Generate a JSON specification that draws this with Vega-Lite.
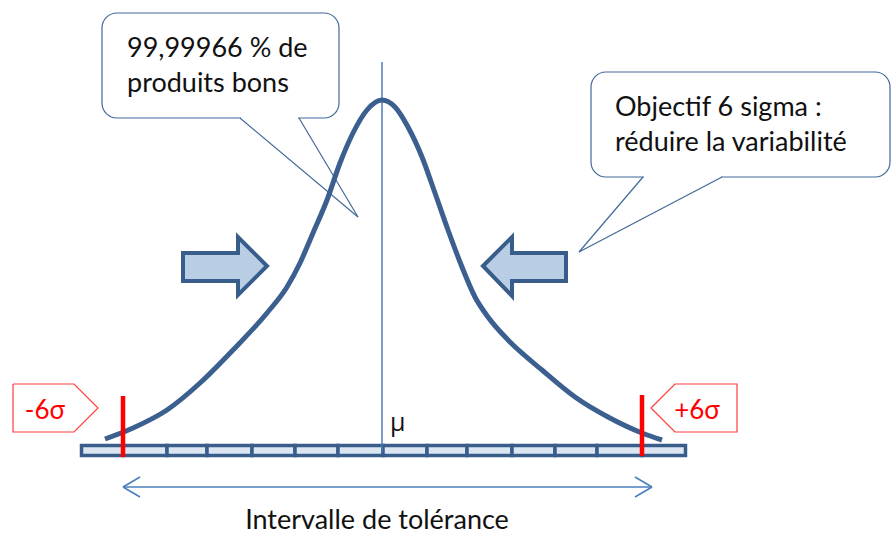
{
  "$schema": "https://vega.github.io/schema/vega-lite/v6.json",
  "width": 892,
  "height": 534,
  "autosize": {"type": "fit", "contains": "padding"},
  "padding": 0,
  "background": "white",
  "config": {"view": {"stroke": null}, "axis": {"disable": true}},
  "datasets": {
    "curve": [
      {"i": 1, "x": 105, "y": 439}, {"i": 2, "x": 133, "y": 428}, {"i": 3, "x": 167, "y": 410},
      {"i": 4, "x": 200, "y": 383}, {"i": 5, "x": 233, "y": 350}, {"i": 6, "x": 267, "y": 313},
      {"i": 7, "x": 287, "y": 287}, {"i": 8, "x": 300, "y": 263}, {"i": 9, "x": 313, "y": 233},
      {"i": 10, "x": 327, "y": 200}, {"i": 11, "x": 340, "y": 163}, {"i": 12, "x": 353, "y": 133},
      {"i": 13, "x": 367, "y": 110}, {"i": 14, "x": 382, "y": 100}, {"i": 15, "x": 395, "y": 107},
      {"i": 16, "x": 408, "y": 127}, {"i": 17, "x": 422, "y": 157}, {"i": 18, "x": 435, "y": 193},
      {"i": 19, "x": 448, "y": 230}, {"i": 20, "x": 462, "y": 267}, {"i": 21, "x": 475, "y": 297},
      {"i": 22, "x": 488, "y": 317}, {"i": 23, "x": 508, "y": 340}, {"i": 24, "x": 542, "y": 370},
      {"i": 25, "x": 575, "y": 397}, {"i": 26, "x": 608, "y": 417}, {"i": 27, "x": 642, "y": 433},
      {"i": 28, "x": 662, "y": 440}
    ],
    "bar": [
      {"x0": 81.5, "x1": 123}, {"x0": 123, "x1": 167}, {"x0": 167, "x1": 207}, {"x0": 207, "x1": 252},
      {"x0": 252, "x1": 295}, {"x0": 295, "x1": 338}, {"x0": 338, "x1": 383}, {"x0": 383, "x1": 427},
      {"x0": 427, "x1": 467}, {"x0": 467, "x1": 512}, {"x0": 512, "x1": 555}, {"x0": 555, "x1": 597},
      {"x0": 597, "x1": 642}, {"x0": 642, "x1": 685.5}
    ],
    "boxes": [
      {"id": "c1", "x0": 102, "x1": 339, "y0": 13, "y1": 118},
      {"id": "c2", "x0": 591, "x1": 890, "y0": 72, "y1": 177}
    ],
    "segs": [
      {"kind": "gap", "x": 241, "y": 118, "x2": 298, "y2": 118},
      {"kind": "gap", "x": 644, "y": 177, "x2": 721, "y2": 177},
      {"kind": "pointer", "x": 240, "y": 118, "x2": 358, "y2": 217},
      {"kind": "pointer", "x": 299, "y": 118, "x2": 358, "y2": 217},
      {"kind": "pointer", "x": 643, "y": 177, "x2": 579, "y2": 252},
      {"kind": "pointer", "x": 722, "y": 177, "x2": 579, "y2": 252},
      {"kind": "mu", "x": 382, "y": 62, "x2": 382, "y2": 452},
      {"kind": "sigma", "x": 123, "y": 396, "x2": 123, "y2": 457},
      {"kind": "sigma", "x": 642, "y": 395, "x2": 642, "y2": 456},
      {"kind": "tol", "x": 123, "y": 487, "x2": 652, "y2": 487},
      {"kind": "tol", "x": 123, "y": 487, "x2": 140, "y2": 477},
      {"kind": "tol", "x": 123, "y": 487, "x2": 140, "y2": 497},
      {"kind": "tol", "x": 652, "y": 487, "x2": 635, "y2": 477},
      {"kind": "tol", "x": 652, "y": 487, "x2": 635, "y2": 497}
    ],
    "arrows": [
      {"id": "r", "x": 183, "y": 253, "y2": 281},
      {"id": "r", "x": 238, "y": 253, "y2": 281},
      {"id": "r", "x": 238, "y": 237, "y2": 295},
      {"id": "r", "x": 267, "y": 266, "y2": 266},
      {"id": "l", "x": 483, "y": 266, "y2": 266},
      {"id": "l", "x": 512, "y": 237, "y2": 296},
      {"id": "l", "x": 512, "y": 253, "y2": 281},
      {"id": "l", "x": 566, "y": 253, "y2": 281}
    ],
    "tags": [
      {"id": "m", "o": 1, "x": 13, "y": 384}, {"id": "m", "o": 2, "x": 74, "y": 384},
      {"id": "m", "o": 3, "x": 98, "y": 408}, {"id": "m", "o": 4, "x": 74, "y": 432},
      {"id": "m", "o": 5, "x": 13, "y": 432}, {"id": "m", "o": 6, "x": 13, "y": 384},
      {"id": "p", "o": 1, "x": 651, "y": 408}, {"id": "p", "o": 2, "x": 675, "y": 384},
      {"id": "p", "o": 3, "x": 737, "y": 384}, {"id": "p", "o": 4, "x": 737, "y": 432},
      {"id": "p", "o": 5, "x": 675, "y": 432}, {"id": "p", "o": 6, "x": 651, "y": 408}
    ],
    "labels": [
      {"kind": "callout", "t": "99,99966 % de", "x": 127, "y": 57},
      {"kind": "callout", "t": "produits bons", "x": 127, "y": 92},
      {"kind": "callout", "t": "Objectif 6 sigma :", "x": 615, "y": 116},
      {"kind": "callout", "t": "réduire la variabilité", "x": 615, "y": 151},
      {"kind": "tag", "t": "-6σ", "x": 45, "y": 419},
      {"kind": "tag", "t": "+6σ", "x": 697, "y": 419},
      {"kind": "mu", "t": "μ", "x": 390, "y": 431},
      {"kind": "title", "t": "Intervalle de tolérance", "x": 377, "y": 529}
    ]
  },
  "layer": [
    {
      "data": {"name": "boxes"},
      "mark": {"type": "rect", "fill": "white", "stroke": "#41699a", "strokeWidth": 1.2, "cornerRadius": 15},
      "encoding": {
        "x": {"field": "x0", "type": "quantitative", "scale": {"domain": [0, 892], "nice": false, "zero": false}},
        "x2": {"field": "x1"},
        "y": {"field": "y0", "type": "quantitative", "scale": {"domain": [0, 534], "nice": false, "zero": false, "reverse": true}},
        "y2": {"field": "y1"}
      }
    },
    {
      "data": {"name": "segs"},
      "transform": [{"filter": "datum.kind === 'gap'"}],
      "mark": {"type": "rule", "stroke": "white", "strokeWidth": 3},
      "encoding": {
        "x": {"field": "x", "type": "quantitative", "scale": {"domain": [0, 892], "nice": false, "zero": false}},
        "x2": {"field": "x2"},
        "y": {"field": "y", "type": "quantitative", "scale": {"domain": [0, 534], "nice": false, "zero": false, "reverse": true}},
        "y2": {"field": "y2"}
      }
    },
    {
      "data": {"name": "segs"},
      "transform": [{"filter": "datum.kind === 'pointer'"}],
      "mark": {"type": "rule", "stroke": "#41699a", "strokeWidth": 1.2},
      "encoding": {
        "x": {"field": "x", "type": "quantitative", "scale": {"domain": [0, 892], "nice": false, "zero": false}},
        "x2": {"field": "x2"},
        "y": {"field": "y", "type": "quantitative", "scale": {"domain": [0, 534], "nice": false, "zero": false, "reverse": true}},
        "y2": {"field": "y2"}
      }
    },
    {
      "data": {"name": "bar"},
      "mark": {"type": "rect", "fill": "#dce6f2", "stroke": "#385d8a", "strokeWidth": 3.5},
      "encoding": {
        "x": {"field": "x0", "type": "quantitative", "scale": {"domain": [0, 892], "nice": false, "zero": false}},
        "x2": {"field": "x1"},
        "y": {"datum": 445.5, "type": "quantitative", "scale": {"domain": [0, 534], "nice": false, "zero": false, "reverse": true}},
        "y2": {"datum": 455.5}
      }
    },
    {
      "data": {"name": "segs"},
      "transform": [{"filter": "datum.kind === 'mu'"}],
      "mark": {"type": "rule", "stroke": "#4a7ebb", "strokeWidth": 1.5},
      "encoding": {
        "x": {"field": "x", "type": "quantitative", "scale": {"domain": [0, 892], "nice": false, "zero": false}},
        "x2": {"field": "x2"},
        "y": {"field": "y", "type": "quantitative", "scale": {"domain": [0, 534], "nice": false, "zero": false, "reverse": true}},
        "y2": {"field": "y2"}
      }
    },
    {
      "data": {"name": "curve"},
      "mark": {"type": "line", "stroke": "#3b5f8e", "strokeWidth": 5, "interpolate": "monotone"},
      "encoding": {
        "x": {"field": "x", "type": "quantitative", "scale": {"domain": [0, 892], "nice": false, "zero": false}},
        "y": {"field": "y", "type": "quantitative", "scale": {"domain": [0, 534], "nice": false, "zero": false, "reverse": true}},
        "order": {"field": "i", "type": "quantitative"}
      }
    },
    {
      "data": {"name": "segs"},
      "transform": [{"filter": "datum.kind === 'sigma'"}],
      "mark": {"type": "rule", "stroke": "#ff0000", "strokeWidth": 4.5},
      "encoding": {
        "x": {"field": "x", "type": "quantitative", "scale": {"domain": [0, 892], "nice": false, "zero": false}},
        "x2": {"field": "x2"},
        "y": {"field": "y", "type": "quantitative", "scale": {"domain": [0, 534], "nice": false, "zero": false, "reverse": true}},
        "y2": {"field": "y2"}
      }
    },
    {
      "data": {"name": "arrows"},
      "mark": {"type": "area", "fill": "#b9cde5", "stroke": "#385d8a", "strokeWidth": 4, "strokeJoin": "miter", "fillOpacity": 1},
      "encoding": {
        "x": {"field": "x", "type": "quantitative", "scale": {"domain": [0, 892], "nice": false, "zero": false}},
        "y": {"field": "y", "type": "quantitative", "scale": {"domain": [0, 534], "nice": false, "zero": false, "reverse": true}},
        "y2": {"field": "y2"},
        "detail": {"field": "id", "type": "nominal"}
      }
    },
    {
      "data": {"name": "tags"},
      "mark": {"type": "line", "stroke": "#ff3b3b", "strokeWidth": 1.2},
      "encoding": {
        "x": {"field": "x", "type": "quantitative", "scale": {"domain": [0, 892], "nice": false, "zero": false}},
        "y": {"field": "y", "type": "quantitative", "scale": {"domain": [0, 534], "nice": false, "zero": false, "reverse": true}},
        "detail": {"field": "id", "type": "nominal"},
        "order": {"field": "o", "type": "quantitative"}
      }
    },
    {
      "data": {"name": "segs"},
      "transform": [{"filter": "datum.kind === 'tol'"}],
      "mark": {"type": "rule", "stroke": "#4a7ebb", "strokeWidth": 1.6},
      "encoding": {
        "x": {"field": "x", "type": "quantitative", "scale": {"domain": [0, 892], "nice": false, "zero": false}},
        "x2": {"field": "x2"},
        "y": {"field": "y", "type": "quantitative", "scale": {"domain": [0, 534], "nice": false, "zero": false, "reverse": true}},
        "y2": {"field": "y2"}
      }
    },
    {
      "data": {"name": "labels"},
      "transform": [{"filter": "datum.kind === 'callout'"}],
      "mark": {"type": "text", "align": "left", "baseline": "alphabetic", "font": "Lato", "fontSize": 27, "color": "#111111"},
      "encoding": {
        "x": {"field": "x", "type": "quantitative", "scale": {"domain": [0, 892], "nice": false, "zero": false}},
        "y": {"field": "y", "type": "quantitative", "scale": {"domain": [0, 534], "nice": false, "zero": false, "reverse": true}},
        "text": {"field": "t"}
      }
    },
    {
      "data": {"name": "labels"},
      "transform": [{"filter": "datum.kind === 'title'"}],
      "mark": {"type": "text", "align": "center", "baseline": "alphabetic", "font": "Lato", "fontSize": 27, "color": "#111111"},
      "encoding": {
        "x": {"field": "x", "type": "quantitative", "scale": {"domain": [0, 892], "nice": false, "zero": false}},
        "y": {"field": "y", "type": "quantitative", "scale": {"domain": [0, 534], "nice": false, "zero": false, "reverse": true}},
        "text": {"field": "t"}
      }
    },
    {
      "data": {"name": "labels"},
      "transform": [{"filter": "datum.kind === 'tag'"}],
      "mark": {"type": "text", "align": "center", "baseline": "alphabetic", "font": "Lato", "fontSize": 26, "color": "#ff0000"},
      "encoding": {
        "x": {"field": "x", "type": "quantitative", "scale": {"domain": [0, 892], "nice": false, "zero": false}},
        "y": {"field": "y", "type": "quantitative", "scale": {"domain": [0, 534], "nice": false, "zero": false, "reverse": true}},
        "text": {"field": "t"}
      }
    },
    {
      "data": {"name": "labels"},
      "transform": [{"filter": "datum.kind === 'mu'"}],
      "mark": {"type": "text", "align": "left", "baseline": "alphabetic", "font": "Open Sans", "fontSize": 25, "color": "#111111"},
      "encoding": {
        "x": {"field": "x", "type": "quantitative", "scale": {"domain": [0, 892], "nice": false, "zero": false}},
        "y": {"field": "y", "type": "quantitative", "scale": {"domain": [0, 534], "nice": false, "zero": false, "reverse": true}},
        "text": {"field": "t"}
      }
    }
  ]
}
